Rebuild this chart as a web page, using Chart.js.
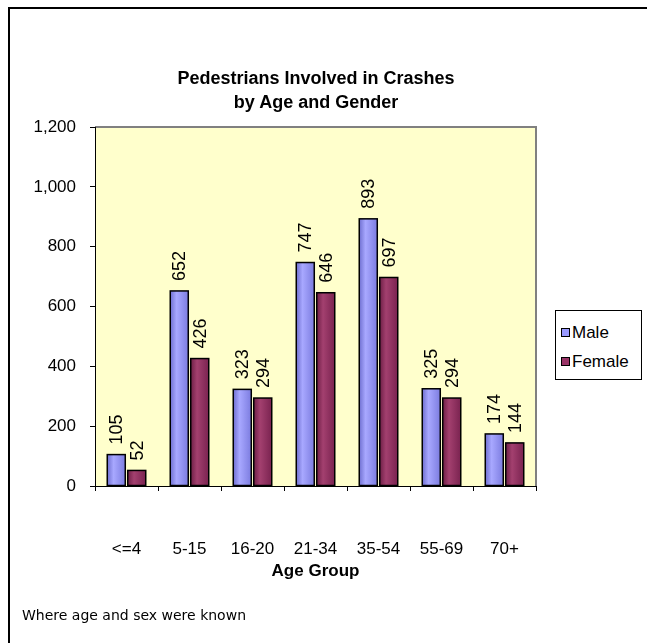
<!DOCTYPE html>
<html>
<head>
<meta charset="utf-8">
<script src="https://cdn.jsdelivr.net/npm/chart.js@4.4.1/dist/chart.umd.min.js"></script>
<style>
  html, body { margin: 0; padding: 0; background: #fff; }
  #wrap { position: relative; width: 647px; height: 643px; overflow: hidden; }
  #frame { position: absolute; left: 8px; top: 7px; width: 700px; height: 700px;
           border-top: 2px solid #000; border-left: 2px solid #000; }
  #myChart { position: absolute; left: 0; top: 0; }
  #title { position: absolute; left: 0; width: 632px; top: 66px; text-align: center;
           font: bold 18px "Liberation Sans", Arial, sans-serif; line-height: 24px; color: #000; }
  #legend { position: absolute; left: 555px; top: 310px; width: 85px; height: 68px;
            border: 1px solid #000; background: #fff; font: 17px "Liberation Sans", Arial, sans-serif; }
  #legend div { position: absolute; left: 5px; white-space: nowrap; }
  #legend span { display: inline-block; width: 7px; height: 7px; border: 1px solid #000; margin-right: 2px; vertical-align: 1px; }
  #note { position: absolute; left: 22px; top: 607px; font: 14px "DejaVu Sans", sans-serif; color: #000; }
</style>
</head>
<body>
<div id="wrap">
  <div id="frame"></div>
  <canvas id="myChart" width="647" height="643"></canvas>
  <div id="title">Pedestrians Involved in Crashes<br>by Age and Gender</div>
  <div id="legend">
    <div style="top:12px"><span style="background:#9999FF"></span>Male</div>
    <div style="top:41px"><span style="background:#993366"></span>Female</div>
  </div>
  <div id="note">Where age and sex were known</div>
</div>
<script>
// categorias e valores
const ageGroups = ['<=4', '5-15', '16-20', '21-34', '35-54', '55-69', '70+'];
const male = [105, 652, 323, 747, 893, 325, 174];
const female = [52, 426, 294, 646, 697, 294, 144];
const yTicks = [0, 200, 400, 600, 800, 1000, 1200];

const colors = {
    male: ['#6F6FD0', '#A8A8FF', '#7C7CE0'],
    female: ['#6E1F46', '#A3406F', '#7A2350']
};

// fundo amarelo da área do gráfico
const plotBg = {
    id: 'plotBg',
    beforeDraw(chart) {
        const { ctx, chartArea: a } = chart;
        ctx.save();
        ctx.fillStyle = '#FFFFCC';
        ctx.fillRect(a.left, a.top, a.right - a.left, a.bottom - a.top);
        ctx.strokeStyle = '#808080';
        ctx.lineWidth = 2;
        ctx.beginPath();
        ctx.moveTo(a.left, a.top);
        ctx.lineTo(a.right, a.top);
        ctx.lineTo(a.right, a.bottom);
        ctx.stroke();
        ctx.restore();
    }
};

// sombreado das barras (estilo Excel)
const barShade = {
    id: 'barShade',
    afterDatasetDraw(chart, args) {
        const ctx = chart.ctx;
        const c = args.index === 0 ? colors.male : colors.female;
        ctx.save();
        args.meta.data.forEach(function (bar) {
            const p = bar.getProps(['x', 'y', 'base', 'width'], true);
            const l = p.x - p.width / 2;
            const g = ctx.createLinearGradient(l, 0, l + p.width, 0);
            g.addColorStop(0, c[0]);
            g.addColorStop(0.35, c[1]);
            g.addColorStop(1, c[2]);
            ctx.fillStyle = g;
            ctx.fillRect(l, p.y, p.width, p.base - p.y);
            ctx.strokeStyle = '#000';
            ctx.lineWidth = 1.5;
            ctx.strokeRect(l, p.y, p.width, p.base - p.y);
        });
        ctx.restore();
    }
};

// rótulos verticais acima das barras
const barLabels = {
    id: 'barLabels',
    afterDatasetsDraw(chart) {
        const ctx = chart.ctx;
        ctx.save();
        ctx.font = '18px "Liberation Sans", Arial, sans-serif';
        ctx.fillStyle = '#000';
        ctx.textAlign = 'left';
        ctx.textBaseline = 'middle';
        chart.data.datasets.forEach(function (ds, i) {
            chart.getDatasetMeta(i).data.forEach(function (bar, j) {
                ctx.save();
                ctx.translate(bar.x, bar.y - 10);
                ctx.rotate(-Math.PI / 2);
                ctx.fillText(String(ds.data[j]), 0, 1);
                ctx.restore();
            });
        });
        ctx.restore();
    }
};

const canvas = document.getElementById('myChart').getContext('2d');
const myChart = new Chart(canvas, {
    type: 'bar',
    data: {
        labels: ageGroups,
        datasets: [
            { label: 'Male', data: male, backgroundColor: '#9999FF', borderWidth: 0 },
            { label: 'Female', data: female, backgroundColor: '#993366', borderWidth: 0 }
        ]
    },
    options: {
        responsive: false,
        animation: false,
        layout: { padding: { left: 0, top: 127, right: 111, bottom: 0 } },
        datasets: { bar: { categoryPercentage: 0.65, barPercentage: 0.88 } },
        plugins: { legend: { display: false }, title: { display: false }, tooltip: { enabled: false } },
        scales: {
            x: {
                grid: { offset: true, drawOnChartArea: false, tickLength: 5, color: '#000' },
                border: { color: '#000', width: 1 },
                ticks: { color: '#000', padding: 48, font: { family: '"Liberation Sans", Arial', size: 17 } },
                title: {
                    display: true, text: 'Age Group', color: '#000',
                    font: { family: '"Liberation Sans", Arial', size: 17, weight: 'bold' },
                    padding: { top: 0, bottom: 61 }
                },
                afterFit(scale) { scale.height = 157; }
            },
            y: {
                min: 0, max: 1200,
                afterBuildTicks(scale) { scale.ticks = yTicks.map(v => ({ value: v })); },
                grid: { drawOnChartArea: false, tickLength: 5, color: '#000' },
                border: { color: '#000', width: 1 },
                ticks: {
                    color: '#000', padding: 14,
                    font: { family: '"Liberation Sans", Arial', size: 17 },
                    callback: v => v.toLocaleString('en-US')
                },
                afterFit(scale) { scale.width = 95; }
            }
        }
    },
    plugins: [plotBg, barShade, barLabels]
});
</script>
</body>
</html>
